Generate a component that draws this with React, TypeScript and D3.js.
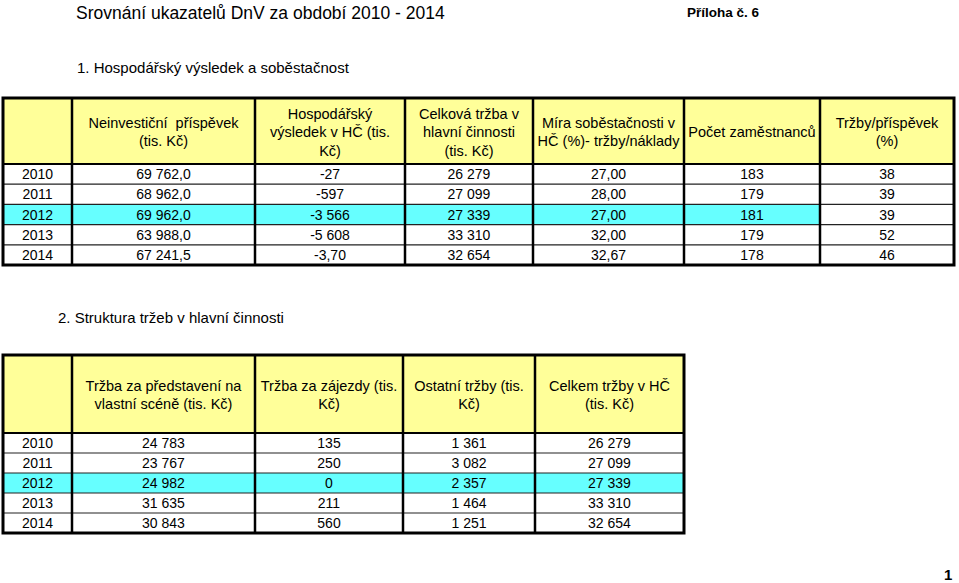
import React from 'react';
import * as d3 from 'd3';

// --- data ---
const years = ['2010', '2011', '2012', '2013', '2014'];
const highlightYear = '2012';

const t1Headers: string[][] = [
  [''],
  ['Neinvestiční  příspěvek', '(tis. Kč)'],
  ['Hospodářský', 'výsledek v HČ (tis.', 'Kč)'],
  ['Celková tržba v', 'hlavní činnosti', '(tis. Kč)'],
  ['Míra soběstačnosti v', 'HČ (%)- tržby/náklady'],
  ['Počet zaměstnanců'],
  ['Tržby/příspěvek', '(%)'],
];
const prispevek = [69762.0, 68962.0, 69962.0, 63988.0, 67241.5];
const hospVysledek = [-27, -597, -3566, -5608, -3.7];
const celkovaTrzba = [26279, 27099, 27339, 33310, 32654];
const miraSobestacnosti = [27.0, 28.0, 27.0, 32.0, 32.67];
const pocetZamestnancu = [183, 179, 181, 179, 178];
const trzbyPrispevek = [38, 39, 39, 52, 46];

const t2Headers: string[][] = [
  [''],
  ['Tržba za představení na', 'vlastní scéně (tis. Kč)'],
  ['Tržba za zájezdy (tis.', 'Kč)'],
  ['Ostatní tržby (tis.', 'Kč)'],
  ['Celkem tržby v HČ', '(tis. Kč)'],
];
const trzbaPredstaveni = [24783, 23767, 24982, 31635, 30843];
const trzbaZajezdy = [135, 250, 0, 211, 560];
const ostatniTrzby = [1361, 3082, 2357, 1464, 1251];
const celkemTrzby = [26279, 27099, 27339, 33310, 32654];

// --- formatting (Czech) ---
const cz = d3.formatLocale({
  decimal: ',',
  thousands: '\u00a0',
  grouping: [3],
  currency: ['', ' Kč'],
  minus: '-',
});
const fInt = cz.format(',d');
const f1 = cz.format(',.1f');
const f2 = cz.format(',.2f');
const fMixed = (v: number) => (Number.isInteger(v) ? fInt(v) : f2(v));

const FONT = '"Liberation Sans", Arial, sans-serif';
const YELLOW = '#ffff99';
const CYAN = '#66ffff';
const HEAD_SIZE = 14.5;
const BODY_SIZE = 14;

type Col = { values?: number[]; fmt?: (v: number) => string; highlight: boolean };

type TableProps = {
  edges: number[];
  top: number;
  headBottom: number;
  bottom: number;
  headers: string[][];
  cols: Col[];
};

const Table = ({ edges, top, headBottom, bottom, headers, cols }: TableProps) => {
  const x = (i: number) => edges[i];
  const w = (i: number) => edges[i + 1] - edges[i];
  const cx = (i: number) => (edges[i] + edges[i + 1]) / 2;
  const y = d3.scaleBand<string>().domain(years).range([headBottom, bottom]);
  const headMid = (top + headBottom) / 2 + 1;
  const lh = 18.5;
  const left = edges[0];
  const right = edges[edges.length - 1];

  return (
    <g>
      {/* header fill */}
      <rect x={left} y={top} width={right - left} height={headBottom - top} fill={YELLOW} />
      {/* body fills */}
      {years.map((yr) =>
        cols.map((c, i) => (
          <rect
            key={yr + i}
            x={x(i)}
            y={y(yr)}
            width={w(i)}
            height={y.bandwidth()}
            fill={yr === highlightYear && c.highlight ? CYAN : '#ffffff'}
          />
        ))
      )}
      {/* header text */}
      {headers.map((lines, i) => (
        <text key={'h' + i} fontFamily={FONT} fontSize={HEAD_SIZE} textAnchor="middle" fill="#000">
          {lines.map((ln, k) => (
            <tspan key={k} x={cx(i)} y={headMid + (k - (lines.length - 1) / 2) * lh + 5} style={{ whiteSpace: 'pre' }}>
              {ln}
            </tspan>
          ))}
        </text>
      ))}
      {/* body text */}
      {years.map((yr, r) =>
        cols.map((c, i) => (
          <text
            key={'t' + yr + i}
            x={cx(i)}
            y={(y(yr) as number) + y.bandwidth() / 2 + 5}
            fontFamily={FONT}
            fontSize={BODY_SIZE}
            textAnchor="middle"
            fill="#000"
          >
            {c.values ? c.fmt!(c.values[r]) : yr}
          </text>
        ))
      )}
      {/* row lines */}
      {years.slice(1).map((yr) => (
        <line key={'r' + yr} x1={left} x2={right} y1={y(yr)} y2={y(yr)} stroke="#222" strokeWidth={1.2} />
      ))}
      {/* column lines */}
      {edges.slice(1, -1).map((e, i) => (
        <line key={'c' + i} x1={e} x2={e} y1={top} y2={bottom} stroke="#000" strokeWidth={2.5} />
      ))}
      <line x1={left} x2={right} y1={headBottom} y2={headBottom} stroke="#000" strokeWidth={2} />
      <rect x={left} y={top} width={right - left} height={bottom - top} fill="none" stroke="#000" strokeWidth={3} />
    </g>
  );
};

export default function App() {
  const t1Cols: Col[] = [
    { highlight: true },
    { values: prispevek, fmt: f1, highlight: true },
    { values: hospVysledek, fmt: fMixed, highlight: true },
    { values: celkovaTrzba, fmt: fInt, highlight: true },
    { values: miraSobestacnosti, fmt: f2, highlight: true },
    { values: pocetZamestnancu, fmt: fInt, highlight: true },
    { values: trzbyPrispevek, fmt: fInt, highlight: false },
  ];
  const t2Cols: Col[] = [
    { highlight: true },
    { values: trzbaPredstaveni, fmt: fInt, highlight: true },
    { values: trzbaZajezdy, fmt: fInt, highlight: true },
    { values: ostatniTrzby, fmt: fInt, highlight: true },
    { values: celkemTrzby, fmt: fInt, highlight: true },
  ];

  return (
    <svg
      width={959}
      height={583}
      style={{ position: 'absolute', left: 0, top: 0, background: '#fff' }}
    >
      <rect width={959} height={583} fill="#fff" />
      <text x={76} y={19} fontFamily={FONT} fontSize={17.5} fill="#000">
        Srovnání ukazatelů DnV za období 2010 - 2014
      </text>
      <text x={687} y={17} fontFamily={FONT} fontSize={13.5} fontWeight="bold" fill="#000">
        Příloha č. 6
      </text>
      <text x={77} y={73} fontFamily={FONT} fontSize={15} fill="#000">
        1. Hospodářský výsledek a soběstačnost
      </text>
      <Table
        edges={[3, 72, 255, 405, 533, 684, 820, 954]}
        top={98}
        headBottom={164}
        bottom={265}
        headers={t1Headers}
        cols={t1Cols}
      />
      <text x={58} y={323} fontFamily={FONT} fontSize={15} fill="#000">
        2. Struktura tržeb v hlavní činnosti
      </text>
      <Table
        edges={[3, 72, 255, 403, 535, 684]}
        top={355}
        headBottom={433}
        bottom={533}
        headers={t2Headers}
        cols={t2Cols}
      />
      <text x={944} y={580} fontFamily={FONT} fontSize={15} fontWeight="bold" fill="#000">
        1
      </text>
    </svg>
  );
}
